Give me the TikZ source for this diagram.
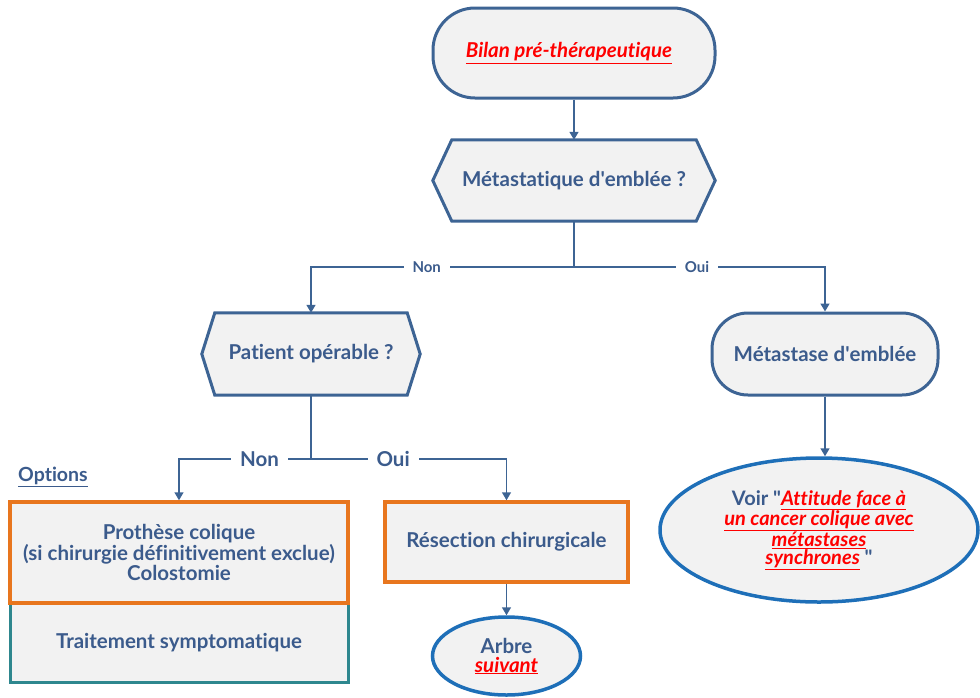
\documentclass[tikz,border=0pt]{standalone}
\usepackage{fontspec}
\setmainfont{Lato}[Ligatures={NoCommon}]
\usetikzlibrary{arrows.meta,backgrounds,calc,shapes.geometric}
\definecolor{navy}{HTML}{3D6494}
\definecolor{txtc}{HTML}{3B5B8C}
\definecolor{boxfill}{HTML}{F2F2F2}
\definecolor{orng}{HTML}{E8761E}
\definecolor{tealc}{HTML}{2E878E}
\definecolor{ellb}{HTML}{1E6FB8}
\definecolor{redl}{HTML}{FF0000}
\newcommand\rlink[1]{{\color{redl}\underline{\itshape #1}}}
\tikzset{
  base/.style={font=\fontsize{20.5}{17}\selectfont\bfseries, text=txtc, align=center, inner sep=0pt},
  term/.style={base, draw=navy, fill=boxfill, line width=3pt},
  hexn/.style={base, draw=none},
  hexline/.style={draw=navy, fill=boxfill, line width=3pt, line join=miter},
  obox/.style={base, draw=orng, fill=boxfill, line width=3.5pt},
  tbox/.style={base, draw=tealc, fill=boxfill, line width=3pt},
  ellnode/.style={base, ellipse, draw=ellb, fill=boxfill, line width=3.5pt},
  conn/.style={draw=navy, line width=1.6pt},
  arr/.style={conn, -{Triangle[width=9pt,length=8pt]}},
  smalllbl/.style={font=\fontsize{15}{15}\selectfont\bfseries, text=txtc, fill=white, inner xsep=9pt, inner ysep=1pt},
  biglbl/.style={font=\fontsize{20.5}{20}\selectfont\bfseries, text=txtc, fill=white, inner xsep=9pt, inner ysep=1pt},
}
\begin{document}
\begin{tikzpicture}[x=1pt,y=-1pt]
\useasboundingbox (0,0) rectangle (980,697);

% top terminal
\node[term, minimum width=282, minimum height=90, rounded corners=42] (start) at (574,53) {\rlink{Bilan pré-thérapeutique}\hspace*{10pt}};

% hexagon 1
\node[hexn, minimum width=282, minimum height=81] (q1) at (574,180.5) {Métastatique d\textquotesingle emblée ?};
% hexagon patient
\node[hexn, minimum width=218, minimum height=82] (pat) at (311,354) {Patient opérable ?};
\begin{scope}[on background layer]
  \path[hexline] ($(q1.north west)+(19,0)$) -- ($(q1.north east)+(-19,0)$) -- (q1.east) -- ($(q1.south east)+(-19,0)$) -- ($(q1.south west)+(19,0)$) -- (q1.west) -- cycle;
  \path[hexline] ($(pat.north west)+(13,0)$) -- ($(pat.north east)+(-13,0)$) -- (pat.east) -- ($(pat.south east)+(-13,0)$) -- ($(pat.south west)+(13,0)$) -- (pat.west) -- cycle;
\end{scope}

% metastase terminal
\node[term, minimum width=226, minimum height=82, rounded corners=36] (meta) at (825,354) {Métastase d\textquotesingle emblée};

% voir ellipse
\node[ellnode, minimum width=318, minimum height=144, font=\fontsize{20}{15.5}\selectfont\bfseries] (voir) at (819,530)
  {Voir \textquotedbl\rlink{Attitude face à}\\\rlink{un cancer colique avec}\\\rlink{métastases}\\\rlink{synchrones} \textquotedbl};

% options
\node[font=\fontsize{19.5}{19}\selectfont\bfseries, text=txtc, inner sep=0pt] (opt) at (53,477) {\underline{Options}};
\node[tbox, minimum width=338, minimum height=79] (optB) at (179,642.5) {Traitement symptomatique};
\node[obox, minimum width=338, minimum height=101] (optA) at (179,552.5) {Prothèse colique\\(si chirurgie définitivement exclue)\\Colostomie};

% resection
\node[obox, minimum width=243, minimum height=80] (res) at (506.5,542) {Résection chirurgicale};
% arbre suivant
\node[ellnode, minimum width=148, minimum height=78, font=\fontsize{20.5}{19}\selectfont\bfseries] (arbre) at (506.5,656) {Arbre\\\rlink{suivant}};

% junctions
\coordinate (j1) at (574,267);
\coordinate (j2) at (311,459);

% connectors
\draw[arr] (start.south) -- (q1.north);
\draw[conn] (q1.south) -- (j1);
\draw[arr] (j1) -| node[pos=0.28, smalllbl] {Non} (pat.north);
\draw[arr] (j1) -| node[pos=0.245, smalllbl] {Oui} (meta.north);
\draw[conn] (pat.south) -- (j2);
\draw[arr] (j2) -| node[pos=0.195, biglbl] {Non} (optA.north);
\draw[arr] (j2) -| node[pos=0.21, biglbl] {Oui} (res.north);
\draw[arr] (res.south) -- (arbre.north);
\draw[arr] (meta.south) -- (meta.south |- voir.north);
\end{tikzpicture}
\end{document}
